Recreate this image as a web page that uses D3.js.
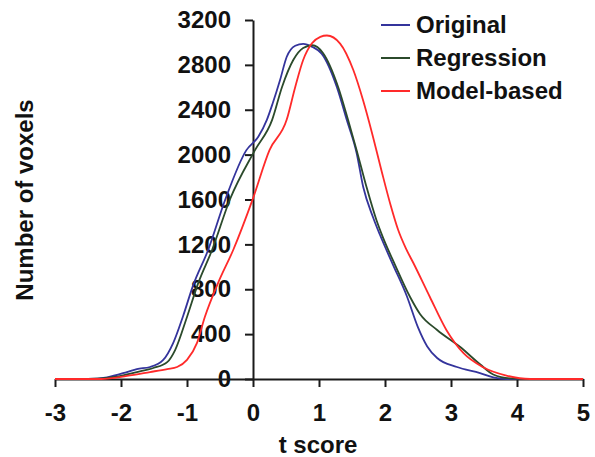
<!DOCTYPE html>
<html>
<head>
<meta charset="utf-8">
<script src="https://cdn.jsdelivr.net/npm/d3@7"></script>
<style>
  body { margin: 0; background: #fff; }
  text { font-family: "Liberation Sans", Arial, sans-serif; font-weight: bold; }
</style>
</head>
<body>
<svg id="chart" width="595" height="457"></svg>
<script>
// x ticks and y ticks
const xTicks = [-3, -2, -1, 0, 1, 2, 3, 4, 5];
const yTicks = [0, 400, 800, 1200, 1600, 2000, 2400, 2800, 3200];

// Original
const origT = [-3, -2.5, -2.21, -1.91, -1.76, -1.56, -1.36, -1.21, -1.06, -0.91, -0.68, -0.42, -0.1, 0.08, 0.21, 0.30, 0.41, 0.51, 0.64, 0.76, 0.9, 1.04, 1.27, 1.42, 1.57, 1.67, 1.82, 1.92, 2.12, 2.33, 2.5, 2.64, 2.79, 3.09, 3.44, 3.64, 3.85, 4.2, 5];
const origV = [0, 0, 15, 62, 89, 107, 170, 320, 560, 830, 1150, 1600, 2040, 2160, 2310, 2460, 2665, 2870, 2970, 2988, 2960, 2900, 2603, 2310, 2015, 1711, 1440, 1290, 1020, 740, 460, 290, 187, 107, 53, 15, 0, 0, 0];

// Regression
const regT = [-3, -2.5, -2.06, -1.76, -1.51, -1.3, -1.18, -1.0, -0.83, -0.62, -0.35, 0.03, 0.29, 0.44, 0.61, 0.76, 0.9, 1.06, 1.29, 1.44, 1.57, 1.72, 1.87, 1.97, 2.15, 2.38, 2.53, 2.79, 3.14, 3.44, 3.64, 3.9, 4.2, 5];
const regV = [0, 0, 22, 62, 98, 150, 258, 553, 855, 1150, 1600, 2040, 2310, 2603, 2843, 2950, 2975, 2906, 2603, 2310, 2040, 1711, 1417, 1260, 1020, 731, 580, 437, 285, 131, 40, 5, 0, 0];

// Model-based
const modT = [-3, -2.3, -1.91, -1.56, -1.3, -1.15, -1.0, -0.85, -0.73, -0.53, -0.30, 0, 0.25, 0.51, 0.64, 0.76, 0.89, 1.02, 1.12, 1.32, 1.52, 1.67, 1.8, 1.95, 2.08, 2.2, 2.32, 2.43, 2.68, 2.93, 3.19, 3.48, 3.84, 4.2, 5];
const modV = [0, 0, 27, 62, 89, 107, 170, 320, 553, 855, 1150, 1610, 2040, 2310, 2603, 2843, 2990, 3050, 3062, 2990, 2754, 2480, 2200, 1850, 1560, 1328, 1160, 1034, 731, 437, 230, 107, 30, 0, 0];

const seriesNames = ["Original", "Regression", "Model-based"];
const seriesColors = ["#34349c", "#2b4a2b", "#ff2a2a"];

const series = [
    { name: seriesNames[0], color: seriesColors[0], points: origT.map((t, i) => ({ t: t, v: origV[i] })) },
    { name: seriesNames[1], color: seriesColors[1], points: regT.map((t, i) => ({ t: t, v: regV[i] })) },
    { name: seriesNames[2], color: seriesColors[2], points: modT.map((t, i) => ({ t: t, v: modV[i] })) }
];

const svg = d3.select("#chart");

const x = d3.scaleLinear().domain([-3, 5]).range([55, 583]);
const y = d3.scaleLinear().domain([0, 3200]).range([379, 20]);

// y axis, sits at t = 0
const yAxis = svg.append("g")
    .attr("transform", `translate(${x(0)},0)`)
    .call(d3.axisLeft(y).tickValues(yTicks).tickSize(8).tickSizeOuter(0).tickPadding(14).tickFormat(d => String(d)));

// x axis
const xAxis = svg.append("g")
    .attr("transform", `translate(0,${y(0)})`)
    .call(d3.axisBottom(x).tickValues(xTicks).tickSize(8).tickSizeOuter(0).tickPadding(17).tickFormat(d => String(d)));

[yAxis, xAxis].forEach(g => {
    g.select(".domain").attr("stroke", "#1a1a1a").attr("stroke-width", 2);
    g.selectAll(".tick line").attr("stroke", "#1a1a1a").attr("stroke-width", 2);
    g.selectAll(".tick text")
        .attr("fill", "#111")
        .style("font-size", "24px")
        .style("font-family", "'Liberation Sans', Arial, sans-serif")
        .style("font-weight", "bold");
});

// curves
const line = d3.line()
    .x(d => x(d.t))
    .y(d => y(d.v))
    .curve(d3.curveMonotoneX);

svg.selectAll(".curve")
    .data(series)
    .enter()
    .append("path")
    .attr("class", "curve")
    .attr("fill", "none")
    .attr("stroke", d => d.color)
    .attr("stroke-width", 1.8)
    .attr("d", d => line(d.points));

// axis titles
svg.append("text")
    .attr("x", 318)
    .attr("y", 453)
    .attr("text-anchor", "middle")
    .attr("font-size", "24px")
    .attr("fill", "#111")
    .text("t score");

svg.append("text")
    .attr("transform", "translate(33,200) rotate(-90)")
    .attr("text-anchor", "middle")
    .attr("font-size", "24px")
    .attr("fill", "#111")
    .text("Number of voxels");

// legend
const legend = svg.selectAll(".legend")
    .data(series)
    .enter()
    .append("g")
    .attr("class", "legend")
    .attr("transform", (d, i) => `translate(381,${25 + i * 33})`);

legend.append("line")
    .attr("x1", 0).attr("x2", 29)
    .attr("y1", 0).attr("y2", 0)
    .attr("stroke", d => d.color)
    .attr("stroke-width", 2);

legend.append("text")
    .attr("x", 35)
    .attr("y", 8)
    .attr("font-size", "24px")
    .attr("fill", "#111")
    .text(d => d.name);
</script>
</body>
</html>
